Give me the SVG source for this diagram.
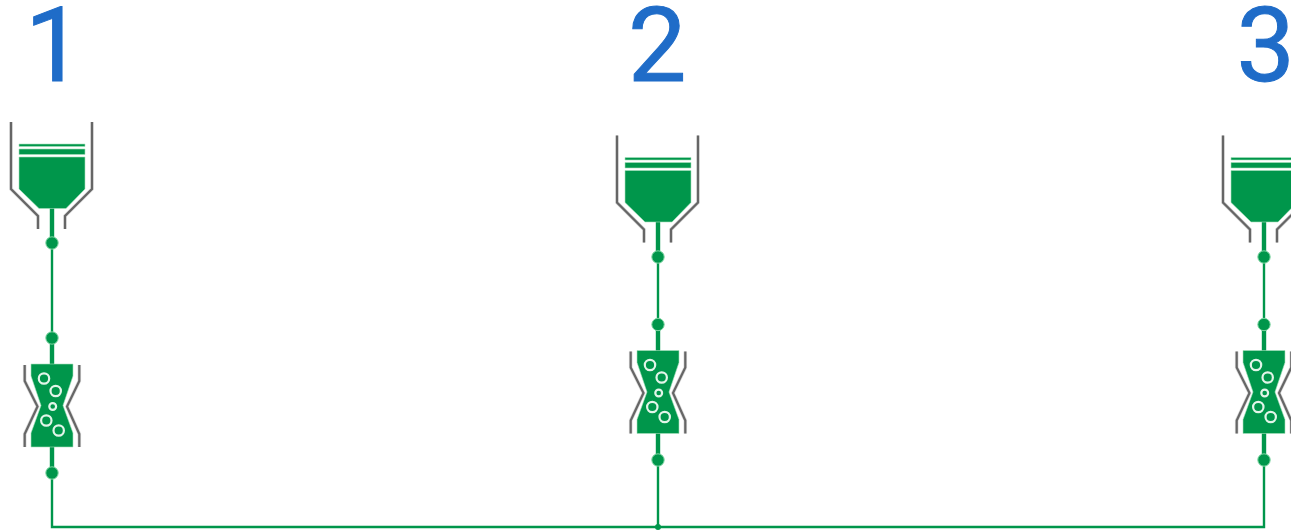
<svg xmlns="http://www.w3.org/2000/svg" width="1291" height="532" viewBox="0 0 1291 532">
<style>
.lbl{font-family:Roboto,"Liberation Sans",Arial,sans-serif;font-size:104px;fill:#1f6cc8;stroke:#1f6cc8;stroke-width:1}
.wall{fill:none;stroke:#666;stroke-width:2.200}
.glow{fill:none;stroke:#d9d9d9;stroke-width:3.600}
.fill{fill:#00964b;stroke:#a8e0bd;stroke-width:.6}
.bub{fill:none;stroke:#e2f5e9;stroke-width:2.200}
.thin{fill:none;stroke:#00964b;stroke-width:2.400}
.thick{fill:none;stroke:#00964b;stroke-width:4.400}
.dot{fill:#00964b;stroke:#7fd6a3;stroke-width:1}
</style>
<defs>
<g id="hopper">
<path class="glow" d="M11 122V189L38 216V229M92 122V189L65 216V229"/>
<path class="wall" d="M11 122V189L38 216V229M92 122V189L65 216V229"/>
<path class="fill" d="M19 144H85V146.500H19ZM19 149H85V154.500H19ZM19 157H85V189L66 208.500H39L19 189Z"/>
</g>
<g id="valve">
<path class="glow" d="M24.700 365V381L37.500 406.500L24.700 434V447M79.300 365V381L67 406.500L79.300 434V447"/>
<path class="wall" d="M24.700 365V381L37.500 406.500L24.700 434V447M79.300 365V381L67 406.500L79.300 434V447"/>
<path class="fill" d="M31 364H73V376L63 405.500L73 433V447H31V433L41 405.500L31 376Z"/>
<circle class="bub" cx="44" cy="378.500" r="5.200"/>
<circle class="bub" cx="55.700" cy="391" r="5.200"/>
<circle class="bub" cx="52.700" cy="406.500" r="3.400"/>
<circle class="bub" cx="46.300" cy="420.500" r="5.200"/>
<circle class="bub" cx="58.700" cy="430.500" r="5.200"/>
</g>
</defs>
<g id="connectors">
<path class="thick" d="M52 208V243M52 338V364M52 447V473"/>
<path class="thin" d="M52 243V338M52 473V527H1264V460M658 460V527"/>
<path class="thick" d="M658 222V257M658 324.500V351M658 433V460"/>
<path class="thin" d="M658 257V324.500"/>
<path class="thick" d="M1264 222V257M1264 324.500V351M1264 433V460"/>
<path class="thin" d="M1264 257V324.500"/>
<circle class="dot" cx="52" cy="243" r="6.200"/>
<circle class="dot" cx="52" cy="338" r="6.200"/>
<circle class="dot" cx="52" cy="473" r="6.200"/>
<circle class="dot" cx="658" cy="257" r="6.200"/>
<circle class="dot" cx="658" cy="324.500" r="6.200"/>
<circle class="dot" cx="658" cy="460" r="6.200"/>
<circle class="dot" cx="1264" cy="257" r="6.200"/>
<circle class="dot" cx="1264" cy="324.500" r="6.200"/>
<circle class="dot" cx="1264" cy="460" r="6.200"/>
<circle cx="658" cy="527" r="3" fill="#00964b"/>
</g>
<g id="hopper-1"><use href="#hopper"/></g>
<g id="valve-1"><use href="#valve"/></g>
<g id="hopper-2"><use href="#hopper" x="606" y="13.500"/></g>
<g id="valve-2"><use href="#valve" x="606" y="-13.500"/></g>
<g id="hopper-3"><use href="#hopper" x="1212" y="13.500"/></g>
<g id="valve-3"><use href="#valve" x="1212" y="-13.500"/></g>
<g id="label-1"><text class="lbl" x="25" y="81">1</text></g>
<g id="label-2"><text class="lbl" x="628" y="81">2</text></g>
<g id="label-3"><text class="lbl" x="1236.500" y="81">3</text></g>
</svg>
